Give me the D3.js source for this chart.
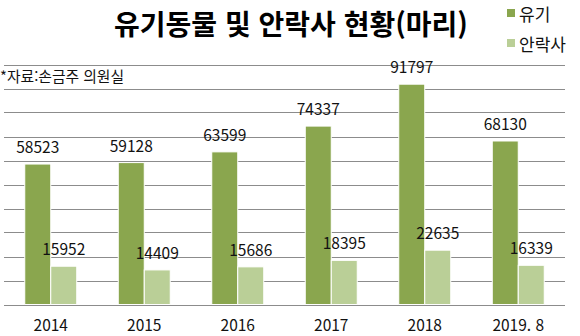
<!DOCTYPE html>
<html lang="ko">
<head>
<meta charset="utf-8">
<script src="https://cdn.jsdelivr.net/npm/d3@7"></script>
<style>
  html, body { margin: 0; padding: 0; background: #fff; }
  svg { display: block; font-family: "Noto Sans CJK KR", "Noto Sans", sans-serif; }
</style>
</head>
<body>
<svg id="chart" width="580" height="336"></svg>
<script>
// 연도별 유기동물 / 안락사 수 (마리)
const categories = ["2014", "2015", "2016", "2017", "2018", "2019. 8"];
const seriesNames = ["유기", "안락사"];
const abandoned = [58523, 59128, 63599, 74337, 91797, 68130];
const euthanized = [15952, 14409, 15686, 18395, 22635, 16339];
const gridTicks = [0, 10000, 20000, 30000, 40000, 50000, 60000, 70000, 80000, 90000, 100000];

const colors = { "유기": "#8aa64e", "안락사": "#bacf97" };
const seriesValues = { "유기": abandoned, "안락사": euthanized };

const svg = d3.select("#chart");

const x = d3.scaleBand()
  .domain(categories)
  .range([4, 565])
  .paddingInner(0.444)
  .paddingOuter(0.222);

const xs = d3.scaleBand()
  .domain(seriesNames)
  .range([0, x.bandwidth()]);

const y = d3.scaleLinear()
  .domain([0, 100000])
  .range([304.5, 64.5]);

// 가로 눈금선
svg.append("g")
  .selectAll("line")
  .data(gridTicks)
  .join("line")
  .attr("x1", 4)
  .attr("x2", 565)
  .attr("y1", d => Math.round(y(d)) + 0.5)
  .attr("y2", d => Math.round(y(d)) + 0.5)
  .attr("stroke", "#8c8c8c")
  .attr("stroke-width", 1.2);

// 막대
const rows = categories.map((c, i) => seriesNames.map(s => ({ cat: c, series: s, value: seriesValues[s][i] })));

const groups = svg.append("g")
  .selectAll("g")
  .data(rows)
  .join("g")
  .attr("transform", d => `translate(${x(d[0].cat)},0)`);

groups.selectAll("rect")
  .data(d => d)
  .join("rect")
  .attr("x", d => xs(d.series))
  .attr("y", d => y(d.value))
  .attr("width", xs.bandwidth())
  .attr("height", d => y(0) - y(d.value))
  .attr("fill", d => colors[d.series])
  .attr("stroke", "#ffffff")
  .attr("stroke-width", 1);

// 값 라벨
groups.selectAll("text")
  .data(d => d)
  .join("text")
  .attr("x", d => xs(d.series) + xs.bandwidth() / 2)
  .attr("y", d => y(d.value) - 11)
  .attr("text-anchor", "middle")
  .attr("font-size", 15.5)
  .attr("fill", "#111")
  .text(d => d.value);

// X축 라벨
const xAxis = d3.axisBottom(x).tickSize(0).tickPadding(0);
const xg = svg.append("g")
  .attr("transform", "translate(0,319.5)")
  .call(xAxis);
xg.select(".domain").remove();
xg.selectAll("text")
  .attr("font-size", 15.5)
  .attr("font-family", "'Noto Sans CJK KR', sans-serif")
  .attr("fill", "#111")
  .attr("dy", "0.71em");

// 제목
svg.append("text")
  .attr("x", 291)
  .attr("y", 35)
  .attr("text-anchor", "middle")
  .attr("font-size", 28)
  .attr("font-weight", "bold")
  .attr("fill", "#000")
  .text("유기동물 및 안락사 현황(마리)");

// 출처
svg.append("text")
  .attr("x", 0)
  .attr("y", 82)
  .attr("font-size", 14.8)
  .attr("fill", "#111")
  .text("*자료:손금주 의원실");

// 범례
const legend = svg.append("g")
  .selectAll("g")
  .data(seriesNames)
  .join("g")
  .attr("transform", (d, i) => `translate(507,${9 + i * 30})`);

legend.append("rect")
  .attr("width", 8)
  .attr("height", 8)
  .attr("fill", d => colors[d]);

legend.append("text")
  .attr("x", 12)
  .attr("y", 12)
  .attr("font-size", 17)
  .attr("fill", "#111")
  .text(d => d);
</script>
</body>
</html>
